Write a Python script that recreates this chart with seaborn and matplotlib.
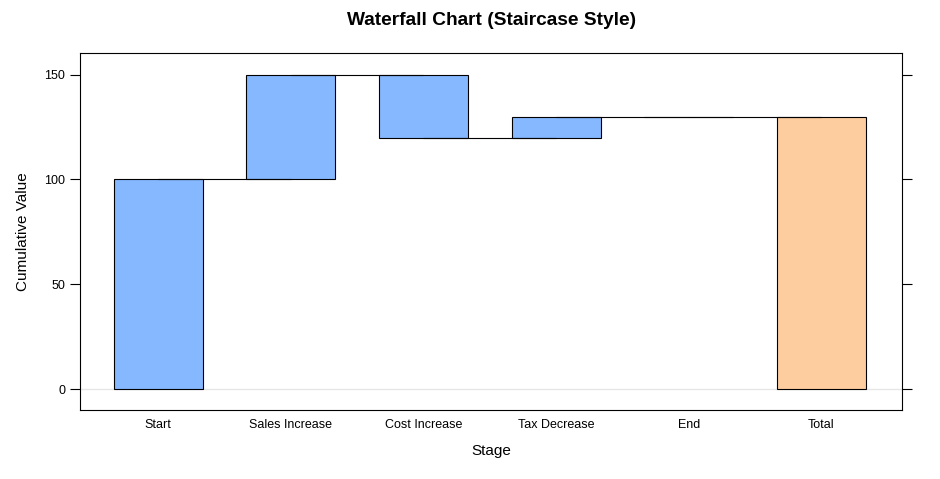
import matplotlib
matplotlib.use("Agg")
import matplotlib.pyplot as plt
import seaborn as sns
import pandas as pd
import numpy as np

# waterfall data
stages = ["Start", "Sales Increase", "Cost Increase", "Tax Decrease", "End", "Total"]
changes = [100, 50, -30, 10, 0, 130]
is_total = [False, False, False, False, False, True]

# cumulative bases / tops
base, top = [], []
running = 0
for c, t in zip(changes, is_total):
    if t:
        base.append(0)
        top.append(c)
    else:
        base.append(running)
        running += c
        top.append(running)

df = pd.DataFrame({"stage": stages, "base": base, "top": top})
df["lo"] = df[["base", "top"]].min(axis=1)
df["height"] = (df["top"] - df["base"]).abs()

sns.set_style("white")
plt.rcParams["font.family"] = ["Liberation Sans", "DejaVu Sans"]
plt.rcParams["text.color"] = "black"
plt.rcParams["axes.labelcolor"] = "black"
plt.rcParams["xtick.color"] = "black"
plt.rcParams["ytick.color"] = "black"

fig, ax = plt.subplots(figsize=(9.4, 4.79), dpi=100)
fig.subplots_adjust(left=0.085, right=0.96, top=0.89, bottom=0.144)

ax.axhline(0, color="#e6e6e6", lw=1, zorder=0)

sns.barplot(data=df, x="stage", y="height", bottom=df["lo"], order=stages,
            color="#86b8ff", saturation=1, width=0.67,
            edgecolor="black", linewidth=0.8, ax=ax, zorder=2)
for p, t in zip(ax.patches, is_total):
    p.set_facecolor("#fdcd9f" if t else "#86b8ff")

# staircase connectors: end of each step to the next bar centre
for i in range(len(stages) - 1):
    ax.plot([i, i + 1], [df["top"][i]] * 2, color="black", lw=0.8, zorder=3)

ax.set_xlim(-0.59, 5.61)
ax.set_ylim(-10, 160.5)
ax.set_yticks([0, 50, 100, 150])
ax.tick_params(axis="y", which="both", left=True, right=True, direction="out",
               length=7, width=0.8, labelsize=9, color="black", labelcolor="black")
ax.tick_params(axis="x", bottom=False, labelsize=9, pad=3, labelcolor="black")
for s in ax.spines.values():
    s.set_color("black")
    s.set_linewidth(0.8)

ax.set_xlabel("Stage", fontsize=11, labelpad=9, color="black")
ax.set_ylabel("Cumulative Value", fontsize=11, labelpad=10, color="black")
ax.set_title("Waterfall Chart (Staircase Style)", fontsize=13.8, fontweight="bold",
             pad=20, color="black")

fig.savefig("out.png", dpi=100)
